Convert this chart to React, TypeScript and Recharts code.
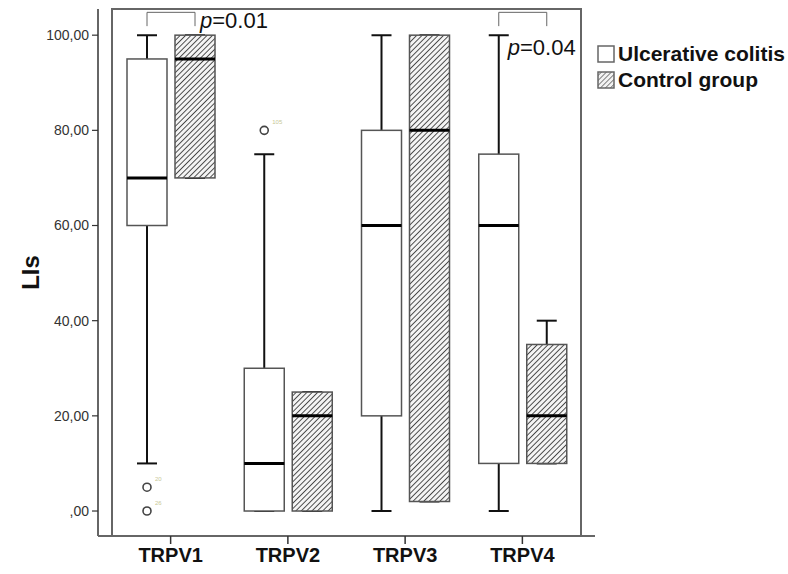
import { ComposedChart, Bar, XAxis, YAxis, ReferenceArea } from "recharts";

const categories = ["TRPV1", "TRPV2", "TRPV3", "TRPV4"];

// Ulcerative colitis
const ucMin = [10, 0, 0, 0];
const ucQ1 = [60, 0, 20, 10];
const ucMedian = [70, 10, 60, 60];
const ucQ3 = [95, 30, 80, 75];
const ucMax = [100, 75, 100, 100];
const ucOutliers = [
  [
    { value: 5, label: "20" },
    { value: 0, label: "26" },
  ],
  [{ value: 80, label: "105" }],
  [],
  [],
];

// Control group
const ctlMin = [70, 0, 2, 10];
const ctlQ1 = [70, 0, 2, 10];
const ctlMedian = [95, 20, 80, 20];
const ctlQ3 = [100, 25, 100, 35];
const ctlMax = [100, 25, 100, 40];

const pValues = ["0.01", "", "", "0.04"];
const yTicks = [0, 20, 40, 60, 80, 100];
const seriesNames = ["Ulcerative colitis", "Control group"];

const FONT = '"Liberation Sans", Arial, Helvetica, sans-serif';
const BAR_SIZE = 40;
const BAR_GAP = 8;
const FRAME = "#666";
const HATCH = 3.8;

type Stats = { min: number; q1: number; median: number; q3: number; max: number };

const data = categories.map((name, i) => ({
  name,
  uc: { min: ucMin[i], q1: ucQ1[i], median: ucMedian[i], q3: ucQ3[i], max: ucMax[i] },
  ctl: { min: ctlMin[i], q1: ctlQ1[i], median: ctlMedian[i], q3: ctlQ3[i], max: ctlMax[i] },
  outliers: ucOutliers[i],
  p: pValues[i],
}));

function BoxShape(props: any, group: "uc" | "ctl") {
  const { x, y, width, height, payload, index } = props;
  const s: Stats = payload[group];
  const top = Math.min(y, y + height);
  const bottom = Math.max(y, y + height);
  const k = (bottom - top) / (s.max - s.min);
  const toY = (v: number) => bottom - (v - s.min) * k;
  const cx = x + width / 2;
  const cap = 10;
  const hatched = group === "ctl";
  const pid = `hatch-${index}`;

  return (
    <g>
      {hatched && (
        <defs>
          <pattern id={pid} patternUnits="userSpaceOnUse" width={HATCH} height={HATCH} patternTransform="rotate(45)">
            <rect width={HATCH} height={HATCH} fill="#f4f4f4" />
            <line x1={0} y1={0} x2={0} y2={HATCH} stroke="#333" strokeWidth={1.7} />
          </pattern>
        </defs>
      )}
      <line x1={cx} x2={cx} y1={toY(s.max)} y2={toY(s.q3)} stroke="#111" strokeWidth={2} />
      <line x1={cx} x2={cx} y1={toY(s.q1)} y2={toY(s.min)} stroke="#111" strokeWidth={2} />
      <line x1={cx - cap} x2={cx + cap} y1={toY(s.max)} y2={toY(s.max)} stroke="#111" strokeWidth={2} />
      <line x1={cx - cap} x2={cx + cap} y1={toY(s.min)} y2={toY(s.min)} stroke="#111" strokeWidth={2} />
      <rect
        x={x}
        y={toY(s.q3)}
        width={width}
        height={toY(s.q1) - toY(s.q3)}
        fill={hatched ? `url(#${pid})` : "#fff"}
        stroke="#555"
        strokeWidth={1.5}
      />
      <line x1={x} x2={x + width} y1={toY(s.median)} y2={toY(s.median)} stroke="#000" strokeWidth={3} />
      {group === "uc" &&
        payload.outliers.map((o: { value: number; label: string }) => (
          <g key={o.label}>
            <circle cx={cx} cy={toY(o.value)} r={4} fill="#fff" stroke="#444" strokeWidth={1.6} />
            <text x={cx + 8} y={toY(o.value) - 6} fontSize={6} fill="#c8c896" fontFamily={FONT}>
              {o.label}
            </text>
          </g>
        ))}
      {group === "ctl" && payload.p && (() => {
        const left = cx - (width + BAR_GAP);
        const yTop = toY(104.8);
        const yLeg = toY(101.9);
        const side = index === 0;
        return (
          <g>
            <polyline
              points={`${left},${yLeg} ${left},${yTop} ${cx},${yTop} ${cx},${yLeg}`}
              fill="none"
              stroke="#666"
              strokeWidth={1}
            />
            <text
              x={side ? cx + 5 : left + 9}
              y={side ? toY(101.5) : toY(95.8)}
              fontSize={22}
              fontFamily={FONT}
              fill="#111"
            >
              <tspan fontStyle="italic">p</tspan>={payload.p}
            </text>
          </g>
        );
      })()}
    </g>
  );
}

function LegendBox() {
  const item = (label: string, hatched: boolean) => (
    <div key={label} style={{ display: "flex", alignItems: "center", height: 26 }}>
      <svg width={18} height={18} style={{ marginRight: 3 }}>
        {hatched && (
          <defs>
            <pattern id="legend-hatch" patternUnits="userSpaceOnUse" width={3.5} height={3.5} patternTransform="rotate(45)">
              <rect width={3.5} height={3.5} fill="#f2f2f2" />
              <line x1={0} y1={0} x2={0} y2={3.5} stroke="#555" strokeWidth={1.4} />
            </pattern>
          </defs>
        )}
        <rect x={1} y={1} width={16} height={16} fill={hatched ? "url(#legend-hatch)" : "#fff"} stroke="#666" strokeWidth={1.5} />
      </svg>
      <span style={{ fontFamily: FONT, fontWeight: "bold", fontSize: 21, color: "#111", whiteSpace: "nowrap" }}>{label}</span>
    </div>
  );
  return (
    <div style={{ position: "absolute", left: 597, top: 41 }}>
      {seriesNames.map((n, i) => item(n, i === 1))}
    </div>
  );
}

export default function App() {
  return (
    <div style={{ position: "absolute", left: 0, top: 0, width: 788, height: 574, background: "#fff" }}>
      <ComposedChart
        width={788}
        height={574}
        data={data}
        margin={{ top: 9, right: 193, bottom: 0, left: 0 }}
        barSize={BAR_SIZE}
        barGap={BAR_GAP}
      >
        <XAxis
          dataKey="name"
          height={38}
          padding={{ left: 14, right: 14 }}
          axisLine={{ stroke: FRAME, strokeWidth: 2 }}
          tickLine={{ stroke: "#333", strokeWidth: 1.5 }}
          tickSize={8}
          tickMargin={4}
          tick={{ fontFamily: FONT, fontSize: 20, fontWeight: "bold", fill: "#111" }}
        />
        <YAxis
          width={98}
          domain={[-5.25, 105.5]}
          ticks={yTicks}
          allowDataOverflow
          tickFormatter={(v: number) => (v === 0 ? ",00" : `${v},00`)}
          axisLine={{ stroke: FRAME, strokeWidth: 2 }}
          tickLine={{ stroke: "#333", strokeWidth: 1.2 }}
          tickSize={6}
          tickMargin={3}
          tick={{ fontFamily: FONT, fontSize: 14, fill: "#333" }}
          label={{
            content: ({ viewBox }: any) => {
              const cy = viewBox.y + viewBox.height / 2;
              return (
                <text
                  x={30}
                  y={cy}
                  transform={`rotate(-90, 30, ${cy})`}
                  textAnchor="middle"
                  dominantBaseline="central"
                  fontFamily={FONT}
                  fontSize={24}
                  fontWeight="bold"
                  fill="#111"
                >
                  LIs
                </text>
              );
            },
          }}
        />
        <ReferenceArea y1={-5.25} y2={105.5} ifOverflow="visible" fill="none" stroke={FRAME} strokeWidth={2} />
        <Bar
          dataKey={(d: any) => [d.uc.min, d.uc.max]}
          name={seriesNames[0]}
          shape={(p: any) => BoxShape(p, "uc")}
          isAnimationActive={false}
        />
        <Bar
          dataKey={(d: any) => [d.ctl.min, d.ctl.max]}
          name={seriesNames[1]}
          shape={(p: any) => BoxShape(p, "ctl")}
          isAnimationActive={false}
        />
      </ComposedChart>
      <LegendBox />
    </div>
  );
}
